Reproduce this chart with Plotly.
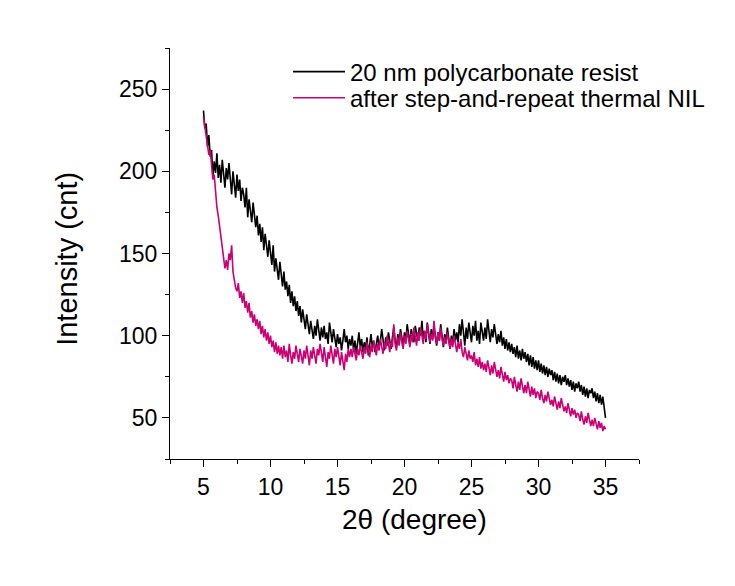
import plotly.graph_objects as go

# 2-theta positions (degrees), 5.0 .. 35.0 in 0.1 steps
two_theta = [round(5.0 + 0.1 * i, 1) for i in range(301)]

# 20 nm polycarbonate resist (counts)
polycarbonate = [
    237, 226, 229, 215, 222, 209, 213, 197, 206, 199,
    211, 196, 204, 193, 207, 199, 190, 202, 195, 205,
    197, 186, 200, 191, 184, 198, 188, 195, 182, 190,
    186, 178, 190, 172, 183, 176, 169, 181, 171, 166,
    173, 161, 168, 157, 166, 152, 162, 155, 148, 158,
    151, 143, 155, 139, 147, 141, 134, 145, 137, 130,
    139, 128, 133, 124, 131, 120, 127, 118, 124, 115,
    121, 112, 118, 108, 116, 110, 104, 113, 106, 101,
    109, 102, 98, 106, 100, 110, 103, 97, 105, 99,
    106, 98, 102, 95, 108, 101, 96, 104, 99, 93,
    101, 95, 99, 91, 97, 104, 96, 100, 92, 98,
    94, 100, 91, 97, 89, 95, 102, 93, 98, 90,
    96, 92, 99, 88, 95, 101, 93, 97, 90, 96,
    100, 93, 97, 104, 95, 91, 99, 94, 102, 96,
    92, 99, 105, 97, 93, 101, 96, 104, 98, 94,
    102, 97, 107, 99, 95, 104, 100, 96, 106, 101,
    97, 105, 100, 109, 98, 103, 96, 108, 101, 95,
    104, 98, 106, 100, 94, 102, 97, 107, 99, 93,
    101, 96, 105, 98, 92, 100, 95, 104, 97, 102,
    96, 107, 100, 110, 99, 94, 105, 98, 108, 101,
    96, 106, 100, 109, 97, 103, 95, 108, 102, 97,
    105, 98, 110, 101, 96, 104, 99, 107, 100, 95,
    101, 96, 103, 94, 99, 92, 98, 91, 96, 90,
    95, 89, 93, 87, 94, 86, 91, 85, 92, 86,
    90, 84, 89, 82, 88, 81, 87, 80, 85, 79,
    85, 78, 83, 77, 82, 76, 81, 75, 80, 76,
    79, 73, 78, 72, 77, 71, 76, 70, 75, 72,
    76, 70, 74, 69, 73, 67, 72, 66, 71, 68,
    72, 66, 70, 64, 69, 63, 68, 62, 67, 65,
    68, 62, 66, 60, 65, 59, 64, 58, 63, 56,
    50,
]

# after step-and-repeat thermal NIL (counts)
after_nil = [
    233, 227, 221, 215, 210, 213, 204, 195, 198, 186,
    178, 173, 166, 161, 153, 147, 141, 146, 140, 150,
    146, 155, 139, 134, 129, 127, 132, 123, 127, 120,
    126, 117, 121, 114, 120, 111, 115, 108, 113, 106,
    110, 104, 109, 101, 106, 99, 104, 97, 102, 95,
    100, 93, 97, 90, 96, 89, 94, 88, 93, 86,
    94, 87, 91, 84, 95, 88, 83, 90, 86, 94,
    89, 84, 92, 87, 83, 91, 86, 94, 88, 82,
    91, 86, 93, 87, 83, 92, 88, 95, 89, 84,
    93, 87, 81, 90, 86, 94, 88, 83, 92, 87,
    93, 88, 82, 90, 85, 79, 89, 84, 92, 87,
    92, 87, 93, 89, 85, 92, 88, 94, 90, 86,
    93, 89, 96, 91, 87, 94, 90, 97, 92, 88,
    95, 91, 98, 93, 89, 96, 92, 100, 94, 90,
    97, 93, 107, 95, 91, 99, 94, 102, 96, 92,
    100, 95, 103, 97, 93, 101, 96, 105, 98, 94,
    102, 97, 105, 99, 95, 103, 98, 107, 100, 96,
    101, 97, 109, 99, 95, 102, 97, 105, 98, 94,
    99, 95, 102, 96, 92, 98, 93, 100, 94, 90,
    96, 92, 98, 90, 87, 93, 89, 85, 91, 86,
    88, 84, 90, 82, 86, 81, 87, 80, 84, 79,
    83, 78, 85, 80, 76, 82, 77, 84, 78, 75,
    79, 74, 81, 75, 72, 78, 73, 76, 71, 74,
    73, 68, 75, 70, 66, 72, 67, 74, 68, 65,
    70, 65, 72, 66, 63, 69, 64, 68, 62, 66,
    65, 61, 67, 62, 59, 64, 60, 66, 61, 58,
    61, 57, 63, 58, 55, 60, 56, 62, 57, 54,
    57, 53, 59, 54, 51, 56, 52, 55, 50, 53,
    52, 48, 54, 49, 46, 51, 47, 53, 48, 45,
    49, 45, 50, 46, 43, 48, 44, 47, 42, 45,
    43,
]

series_names = ["20 nm polycarbonate resist", "after step-and-repeat thermal NIL"]
series_colors = ["#000000", "#CC0074"]
legend_ids = ["legend", "legend2"]

x_title = "2θ (degree)"
y_title = "Intensity (cnt)"

FONT = "Liberation Sans, Arial, sans-serif"

fig = go.Figure()
for name, ys, col, lg in zip(series_names, [polycarbonate, after_nil], series_colors, legend_ids):
    fig.add_trace(go.Scatter(x=two_theta, y=ys, mode="lines", name=name, legend=lg,
                             line=dict(color=col, width=1.6)))

axis_common = dict(
    showline=True, linecolor="black", linewidth=1.3, mirror=False,
    ticks="outside", ticklen=7, tickwidth=1.3, tickcolor="black",
    showgrid=False, zeroline=False,
    tickfont=dict(family=FONT, size=23, color="black"),
)

legend_common = dict(xanchor="left", yanchor="middle", bgcolor="rgba(0,0,0,0)",
                     font=dict(family=FONT, size=24, color="black"), itemwidth=52)

fig.update_layout(
    width=735, height=586,
    margin=dict(l=170, r=96, t=48, b=127),
    paper_bgcolor="white", plot_bgcolor="white",
    font=dict(family=FONT, color="black"),
    showlegend=True,
    legend=dict(x=0.2516, y=0.9416, **legend_common),
    legend2=dict(x=0.2516, y=0.878, **legend_common),
    annotations=[
        dict(text=x_title, xref="paper", yref="paper", x=0.522, y=-0.148,
             xanchor="center", yanchor="middle", showarrow=False,
             font=dict(family=FONT, size=28, color="black")),
        dict(text=y_title, xref="paper", yref="paper", x=-0.2196, y=0.487,
             xanchor="center", yanchor="middle", showarrow=False, textangle=-90,
             font=dict(family=FONT, size=29, color="black")),
    ],
)
fig.update_xaxes(
    range=[2.5, 37.5], tick0=5, dtick=5,
    minor=dict(ticks="outside", ticklen=4, tickwidth=1.3, tickcolor="black", dtick=2.5, tick0=2.5),
    **axis_common,
)
fig.update_yaxes(
    range=[25, 275], tick0=50, dtick=50,
    minor=dict(ticks="outside", ticklen=4, tickwidth=1.3, tickcolor="black", dtick=25, tick0=25),
    **axis_common,
)

fig.write_html("out.html")
